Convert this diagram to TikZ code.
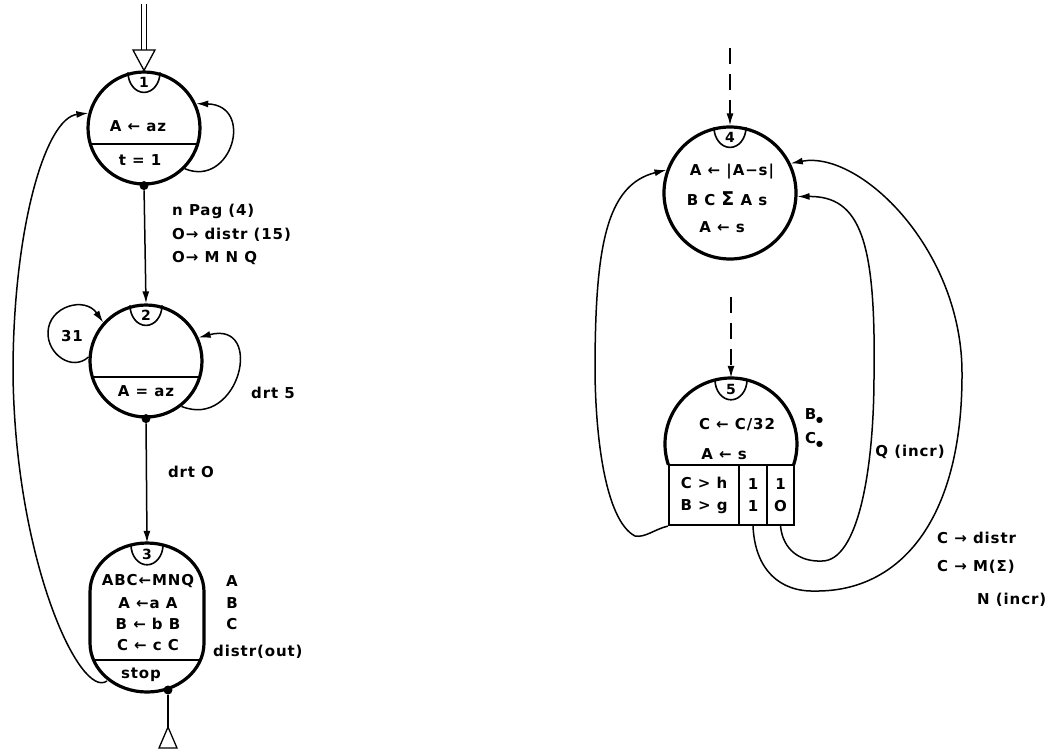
\documentclass[tikz,border=0pt]{standalone}
\usepackage{fontspec}
\setmainfont{DejaVu Sans}
\usetikzlibrary{arrows.meta,calc}
\newcommand\tf{\fontsize{15}{17}\selectfont\bfseries\addfontfeatures{LetterSpace=6}}
\newcommand\nf{\fontsize{14}{16}\selectfont\bfseries}
\newcommand\sig{{\fontsize{19}{19}\selectfont Σ}}
\newcommand\bul{\raisebox{-3pt}{\fontsize{8}{8}\selectfont ●}}
\newcommand\numlab[3]{%
  \draw[line width=1.6pt] ($(#1.north)+(-16,2)$) arc[start angle=180,end angle=360,x radius=16pt,y radius=20pt];
  \node[font=\nf, inner sep=0pt] (#3) at ($(#1.north)+(0,12)$) {#2};}
\begin{document}
\begin{tikzpicture}[x=1pt,y=-1pt,
  state/.style={draw, circle, line width=3.2pt, inner sep=0pt},
  conn/.style={line width=1.5pt},
  arr/.style={conn, -{Latex[length=12pt,width=7pt]}},
  darr/.style={arr, dash pattern=on 16pt off 10pt},
  dotn/.style={circle, fill, inner sep=0pt, minimum size=9pt},
  txt/.style={font=\tf, inner sep=0pt},
  ltxt/.style={font=\tf, inner sep=0pt, anchor=west},
  cell/.style={draw, line width=2.2pt, rectangle, inner sep=0pt, font=\tf, align=center}
]
\fill[white] (0,0) rectangle (1054,750);
\useasboundingbox (0,0) rectangle (1054,750);

% ---------- node 1 ----------
\node[state, minimum size=112pt] (n1) at (144,128) {};
\begin{scope}
  \clip (144,128) circle[radius=56pt];
  \draw[line width=1.6pt] (80,144) -- (210,144);
\end{scope}
\numlab{n1}{1}{l1}
\node[txt] (n1a) at (138,126) {A ← az};
\node[txt] (n1b) at (140,160) {t = 1};

% input double arrow
\coordinate (i1) at (144,4);
\coordinate (i1b) at (144,50);
\draw[line width=1.2pt, double, double distance=4pt] (i1) -- (i1b);
\draw[line width=1.3pt, fill=white] ($(i1b)+(-11,0)$) -- ($(i1b)+(11,0)$) -- (n1.north) -- cycle;

% self loop node 1
\draw[arr] (n1.-45) .. controls (232,188) and (255,105) .. (n1.25);

% ---------- node 2 ----------
\node[state, minimum size=112pt] (n2) at (146,361) {};
\begin{scope}
  \clip (146,361) circle[radius=56pt];
  \draw[line width=1.6pt] (80,377) -- (210,377);
\end{scope}
\numlab{n2}{2}{l2}
\node[txt] (n2a) at (146,391) {A = az};

\node[dotn] (d1) at (n1.south) {};
\draw[arr] (d1) -- (n2.north);
\node[ltxt] (e12a) at (172,211) {n Pag (4)};
\node[ltxt] (e12b) at (172,235) {O→ distr (15)};
\node[ltxt] (e12c) at (172,258) {O→ M N Q};

% loops node 2
\draw[arr] (n2.-52) .. controls (240,430) and (265,320) .. (n2.24);
\node[txt] (drt5) at (273,393) {drt 5};
\draw[arr] (n2.176) .. controls (72,372) and (47,354) .. (48,332)
   .. controls (49,306) and (85,296) .. (n2.138);
\node[txt] (l31) at (72,336) {31};

% ---------- node 3 ----------
\node[minimum width=114pt, minimum height=149pt, inner sep=0pt] (n3) at (147,617.5) {};
\def\shapethree{(90,592) arc[start angle=180,end angle=0,x radius=57pt,y radius=49pt]
  -- (204,643) arc[start angle=0,end angle=-180,x radius=57pt,y radius=49pt] -- cycle}
\draw[line width=3.2pt] \shapethree;
\begin{scope}
  \clip \shapethree;
  \draw[line width=1.6pt] (80,660) -- (220,660);
\end{scope}
\numlab{n3}{3}{l3}
\node[txt] (n3a) at (148,581) {ABC←MNQ};
\node[txt] (n3b) at (148,603) {A ←a A};
\node[txt] (n3c) at (148,624) {B ← b B};
\node[txt] (n3d) at (148,645) {C ← c C};
\node[txt] (n3e) at (141,675) {stop};

\node[dotn] (d2) at (n2.south) {};
\draw[arr] (d2) -- (n3.north);
\node[txt] (drt0) at (191,472) {drt O};

\node[txt] (r3a) at (232,581) {A};
\node[txt] (r3b) at (232,603) {B};
\node[txt] (r3c) at (232,624) {C};
\node[ltxt] (r3d) at (213,652) {distr(out)};

% exit
\node[dotn] (d3) at (168,690) {};
\coordinate (o3) at (168,727);
\draw[conn] (d3) -- (o3);
\draw[line width=1.3pt, fill=white] (o3) -- ++(9,21) -- ++(-18,0) -- cycle;

% return 3 -> 1
\coordinate (s3) at (107,681);
\draw[arr] (s3) .. controls (80,700) and (15,560) .. (13,373)
  .. controls (13,230) and (45,118) .. (n1.165);

% ---------- node 4 ----------
\node[state, minimum size=132pt] (n4) at (730,193) {};
\numlab{n4}{4}{l4}
\node[txt] (n4a) at (732,172) {A ← |A−s|};
\node[txt] (n4b) at (727,199) {B C \sig\ A s};
\node[txt] (n4c) at (722,227) {A ← s};

\coordinate (i4) at (730,48);
\draw[darr] (i4) -- (n4.north);

% ---------- node 5 ----------
\node[minimum size=132pt, circle, inner sep=0pt] (n5) at (731,444) {};
\draw[line width=3.2pt] (731,444) ++(198.5:66pt) arc[start angle=198.5,end angle=-18.5,radius=66pt];
\numlab{n5}{5}{l5}
\node[txt] (n5a) at (737,425) {C ← C/32};
\node[txt] (n5b) at (724,454) {A ← s};
\node[cell, minimum width=70pt, minimum height=60pt] (t1) at (704,495) {C > h\\[5pt]B > g};
\node[cell, minimum width=28pt, minimum height=60pt] (t2) at (753,495) {1\\[5pt]1};
\node[cell, minimum width=27pt, minimum height=60pt] (t3) at (780.5,495) {1\\[5pt]O};
\node[txt] (b5) at (814,416) {B\bul};
\node[txt] (c5) at (814,440) {C\bul};

\coordinate (d45) at (731,297);
\draw[darr] (d45) -- (n5.north);

% loops from node 5 to node 4
\draw[arr] (t1.south west) .. controls (655,529) and (645,538) .. (635,536)
  .. controls (608,522) and (596,450) .. (595,373)
  .. controls (595,250) and (605,185) .. (n4.160);
\draw[arr] (t3.south) .. controls (783,550) and (800,562) .. (822,561)
  .. controls (858,561) and (874,470) .. (874,375)
  .. controls (876,240) and (860,196) .. (n4.-3);
\draw[arr] (t2.south) .. controls (755,570) and (780,592) .. (815,591)
  .. controls (900,592) and (962,520) .. (962,375)
  .. controls (963,250) and (860,150) .. (n4.26);

\node[txt] (qi) at (910,452) {Q (incr)};
\node[ltxt] (cd) at (937,538) {C → distr};
\node[ltxt] (cm) at (937,567) {C → M(Σ)};
\node[ltxt] (ni) at (977,600) {N (incr)};
\end{tikzpicture}
\end{document}
